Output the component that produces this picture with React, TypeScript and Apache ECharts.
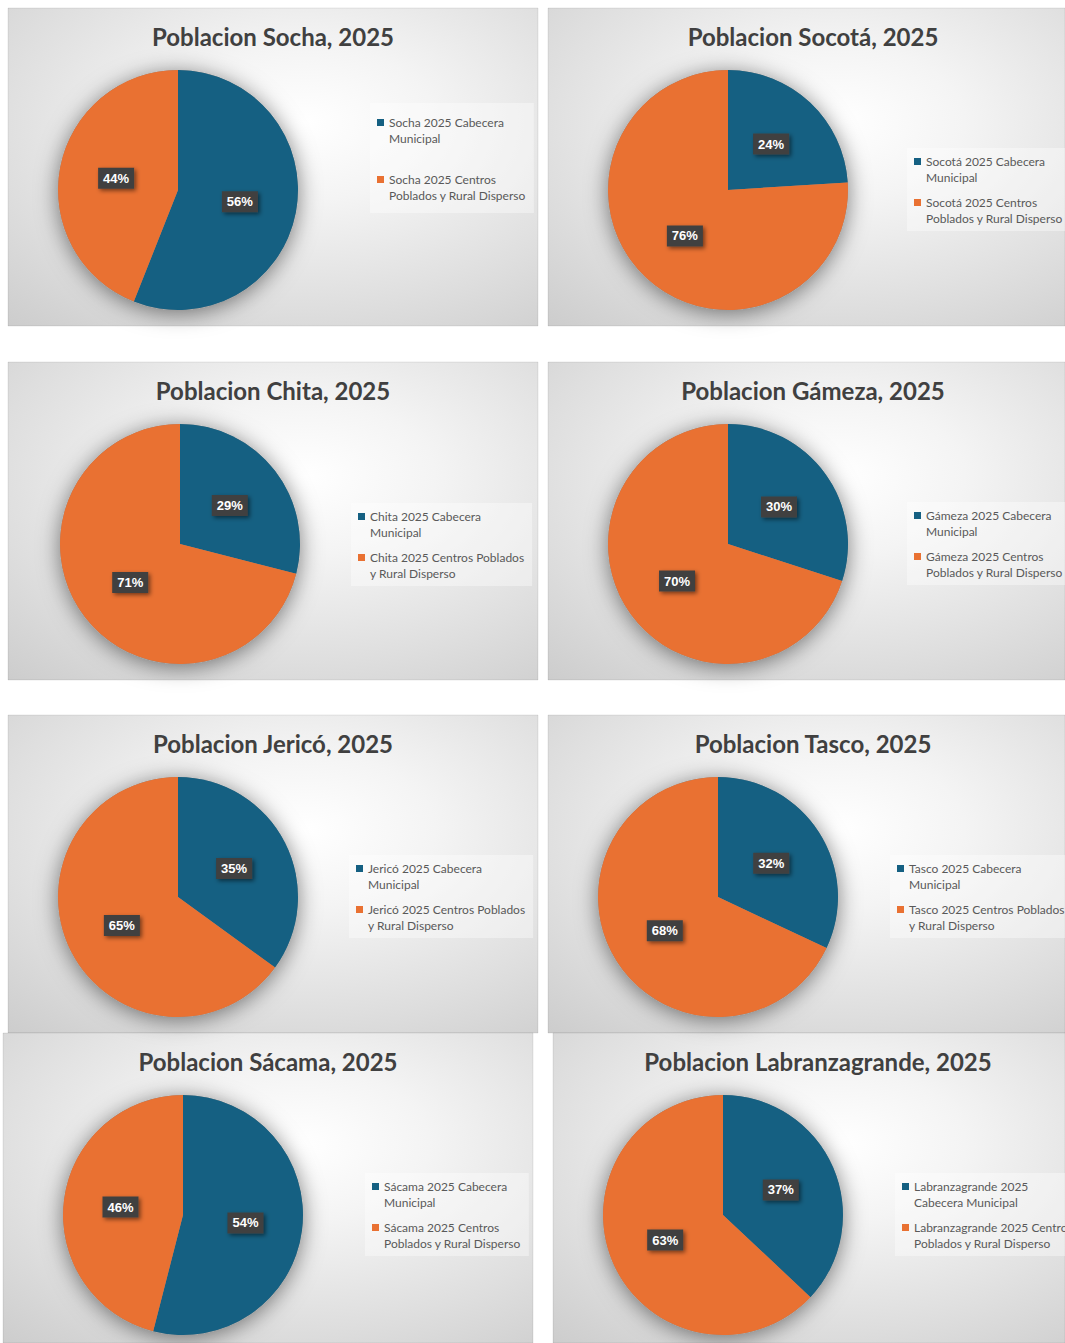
import React, { useEffect, useRef } from 'react';
import * as echarts from 'echarts';

// ---------- data ----------
const municipios = ['Socha', 'Socotá', 'Chita', 'Gámeza', 'Jericó', 'Tasco', 'Sácama', 'Labranzagrande'];
const cabeceraPct = [56, 24, 29, 30, 35, 32, 54, 37];
const ruralPct = [44, 76, 71, 70, 65, 68, 46, 63];
const cabeceraLegend = [
  'Socha 2025 Cabecera\nMunicipal',
  'Socotá 2025 Cabecera\nMunicipal',
  'Chita 2025 Cabecera\nMunicipal',
  'Gámeza 2025 Cabecera\nMunicipal',
  'Jericó 2025 Cabecera\nMunicipal',
  'Tasco 2025 Cabecera\nMunicipal',
  'Sácama 2025 Cabecera\nMunicipal',
  'Labranzagrande 2025\nCabecera Municipal',
];
const ruralLegend = [
  'Socha 2025 Centros\nPoblados y Rural Disperso',
  'Socotá 2025 Centros\nPoblados y Rural Disperso',
  'Chita 2025 Centros Poblados\ny Rural Disperso',
  'Gámeza 2025 Centros\nPoblados y Rural Disperso',
  'Jericó 2025 Centros Poblados\ny Rural Disperso',
  'Tasco 2025 Centros Poblados\ny Rural Disperso',
  'Sácama 2025 Centros\nPoblados y Rural Disperso',
  'Labranzagrande 2025 Centros\nPoblados y Rural Disperso',
];

// ---------- layout (positions & styles only) ----------
const BLUE = '#156082';
const ORANGE = '#E97132';
const panels = [
  { x: 8, y: 8, w: 530, h: 318, tx: 273, ty: 36, cx: 178, cy: 190, lx: 370, ly: 103, gap: 24, pad: [11, 8, 9, 7] },
  { x: 548, y: 8, w: 517, h: 318, tx: 813, ty: 36, cx: 728, cy: 190, lx: 907, ly: 148, gap: 8, pad: [5, 8, 4, 7] },
  { x: 8, y: 362, w: 530, h: 318, tx: 273, ty: 390, cx: 180, cy: 544, lx: 351, ly: 503, gap: 8, pad: [5, 8, 4, 7] },
  { x: 548, y: 362, w: 517, h: 318, tx: 813, ty: 390, cx: 728, cy: 544, lx: 907, ly: 502, gap: 8, pad: [5, 8, 4, 7] },
  { x: 8, y: 715, w: 530, h: 318, tx: 273, ty: 743, cx: 178, cy: 897, lx: 349, ly: 855, gap: 8, pad: [5, 8, 4, 7] },
  { x: 548, y: 715, w: 517, h: 318, tx: 813, ty: 743, cx: 718, cy: 897, lx: 890, ly: 855, gap: 8, pad: [5, 8, 4, 7] },
  { x: 3, y: 1033, w: 530, h: 310, tx: 268, ty: 1061, cx: 183, cy: 1215, lx: 365, ly: 1173, gap: 8, pad: [5, 8, 4, 7] },
  { x: 553, y: 1033, w: 512, h: 310, tx: 818, ty: 1061, cx: 723, cy: 1215, lx: 895, ly: 1173, gap: 8, pad: [5, 8, 4, 7] },
];

const LEGEND_ICON = 'path://M0,0h0.01v0.01h-0.01zM0,5h7v7h-7zM0,33h0.01v-0.01h-0.01z';

function buildOption() {
  const graphicEls: any[] = [];
  const series: any[] = [];
  const legends: any[] = [];

  panels.forEach((p, i) => {
    graphicEls.push({
      type: 'rect',
      silent: true,
      z: 0,
      shape: { x: p.x, y: p.y, width: p.w, height: p.h },
      style: {
        fill: new echarts.graphic.RadialGradient(0.56, 0.36, 0.98, [
          { offset: 0, color: '#ffffff' },
          { offset: 0.25, color: '#f4f4f4' },
          { offset: 0.6, color: '#dedede' },
          { offset: 1, color: '#c4c4c4' },
        ]),
        stroke: 'rgba(0,0,0,0.08)',
        lineWidth: 1,
      },
    });
    graphicEls.push({
      type: 'text',
      silent: true,
      z: 100,
      x: p.tx,
      y: p.ty,
      style: {
        text: `Poblacion ${municipios[i]}, 2025`,
        align: 'center',
        verticalAlign: 'middle',
        fontFamily: 'Lato',
        fontWeight: 'bold',
        fontSize: 24,
        fill: '#404040',
      },
    });

    // shadow disc under the pie
    series.push({
      type: 'pie',
      name: `sombra-${i}`,
      silent: true,
      z: 1,
      center: [p.cx, p.cy],
      radius: 120,
      label: { show: false },
      labelLine: { show: false },
      emphasis: { disabled: true },
      data: [
        {
          value: cabeceraPct[i] + ruralPct[i],
          name: `sombra ${municipios[i]}`,
          itemStyle: {
            color: '#8a8a8a',
            shadowBlur: 22,
            shadowColor: 'rgba(0,0,0,0.5)',
            shadowOffsetY: 3,
          },
        },
      ],
    });

    series.push({
      type: 'pie',
      name: `Poblacion ${municipios[i]}, 2025`,
      z: 2,
      center: [p.cx, p.cy],
      radius: 120,
      startAngle: 90,
      clockwise: true,
      percentPrecision: 0,
      avoidLabelOverlap: false,
      emphasis: { disabled: true },
      itemStyle: { borderWidth: 0 },
      labelLine: { show: false },
      label: {
        show: true,
        position: 'inside',
        formatter: '{d}%',
        color: '#ffffff',
        fontFamily: 'Liberation Sans',
        fontWeight: 'bold',
        fontSize: 13,
        backgroundColor: '#404040',
        padding: [4, 5, 4, 5],
        shadowColor: 'rgba(0,0,0,0.5)',
        shadowBlur: 4,
        shadowOffsetX: 2,
        shadowOffsetY: 2,
      },
      data: [
        { value: cabeceraPct[i], name: cabeceraLegend[i], itemStyle: { color: BLUE } },
        { value: ruralPct[i], name: ruralLegend[i], itemStyle: { color: ORANGE } },
      ],
    });

    legends.push({
      orient: 'vertical',
      left: p.lx,
      top: p.ly,
      padding: p.pad,
      itemGap: p.gap,
      itemWidth: 7,
      itemHeight: 33,
      icon: LEGEND_ICON,
      selectedMode: false,
      backgroundColor: 'rgba(255,255,255,0.38)',
      itemStyle: { shadowBlur: 0, shadowColor: 'transparent', borderWidth: 0 },
      textStyle: {
        fontFamily: 'Lato',
        fontSize: 12,
        lineHeight: 16.5,
        color: '#595959',
      },
      data: [cabeceraLegend[i], ruralLegend[i]],
    });
  });

  return {
    animation: false,
    backgroundColor: '#ffffff',
    graphic: { elements: graphicEls },
    legend: legends,
    series,
  };
}

export default function App() {
  const ref = useRef<HTMLDivElement>(null);
  useEffect(() => {
    if (!ref.current) return;
    const chart = echarts.init(ref.current, undefined, { renderer: 'svg' });
    chart.setOption(buildOption() as any);
    return () => chart.dispose();
  }, []);
  return (
    <div
      ref={ref}
      style={{ position: 'absolute', left: 0, top: 0, width: 1065, height: 1343 }}
    />
  );
}
